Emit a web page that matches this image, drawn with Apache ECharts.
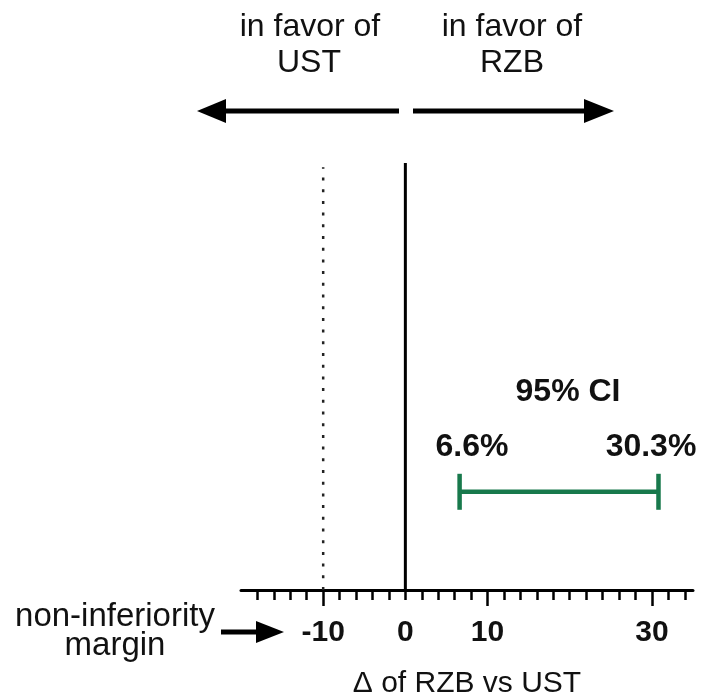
<!DOCTYPE html>
<html>
  <head>
    <meta charset="utf-8" />
    <title>Non-inferiority</title>
    <script src="https://cdn.jsdelivr.net/npm/echarts@6/dist/echarts.min.js"></script>
    <style>
      html, body { margin: 0; padding: 0; background: #fff; }
    </style>
  </head>
  <body>
    <div id="main" style="width: 705px;height:699px;"></div>
    <script type="text/javascript">
      // data
      var minorTicks = [-18, -16, -14, -12, -10, -8, -6, -4, -2, 0, 2, 4, 6, 8, 10, 12, 14, 16, 18, 20, 22, 24, 26, 28, 30, 32, 34];
      var majorTicks = [-10, 10, 30];
      var tickLabels = [-10, 0, 10, 30];
      var marginValue = -10;       // non-inferiority margin
      var ciBounds = [6.6, 30.8];  // drawn ends of the 95% CI
      var ciLabels = ['6.6%', '30.3%'];
      var ciRow = 23;              // height of the CI bar on the hidden y axis

      var FONT = '"Liberation Sans", Arial, Helvetica, sans-serif';
      var myChart = echarts.init(document.getElementById('main'));

      function txt(text, x, y, size, bold) {
        return {
          type: 'text',
          style: {
            text: text, x: x, y: y,
            font: (bold ? 'bold ' : '') + size + 'px ' + FONT,
            fill: '#111',
            textAlign: 'center',
            textVerticalAlign: 'middle'
          }
        };
      }

      option = {
        animation: false,
        grid: { left: 241, right: 12, top: 163, bottom: 109, outerBoundsMode: 'none', containLabel: false },
        xAxis: [
          {
            type: 'value',
            min: -20,
            max: 35,
            splitLine: { show: false },
            axisLine: { lineStyle: { color: '#000', width: 3 } },
            axisTick: { customValues: minorTicks, length: 10, lineStyle: { color: '#000', width: 2.5 } },
            axisLabel: {
              customValues: tickLabels,
              margin: 28,
              fontFamily: FONT,
              fontSize: 30,
              fontWeight: 'bold',
              color: '#111'
            },
            name: 'Δ of RZB vs UST',
            nameLocation: 'middle',
            nameGap: 79,
            nameTextStyle: { fontFamily: FONT, fontSize: 30, color: '#111' }
          },
          {
            type: 'value',
            min: -20,
            max: 35,
            position: 'bottom',
            splitLine: { show: false },
            axisLine: { show: false },
            axisTick: { customValues: majorTicks, length: 16, lineStyle: { color: '#000', width: 2.5 } },
            axisLabel: { show: false }
          }
        ],
        yAxis: { type: 'value', min: 0, max: 100, show: false },
        series: [
          {
            type: 'line',
            symbol: 'none',
            data: [[0, 0], [0, 100]],
            lineStyle: { color: '#000', width: 3 }
          },
          {
            type: 'line',
            symbol: 'none',
            data: [[marginValue, 0], [marginValue, 99]],
            lineStyle: { color: '#222', width: 2.5, type: [3, 8.7] }
          },
          {
            type: 'custom',
            data: [[ciBounds[0], ciBounds[1], ciRow]],
            renderItem: function (params, api) {
              var a = api.coord([api.value(0), api.value(2)]);
              var b = api.coord([api.value(1), api.value(2)]);
              var h = 18;
              var st = { stroke: '#18794c', lineWidth: 4.5 };
              return {
                type: 'group',
                children: [
                  { type: 'line', shape: { x1: a[0], y1: a[1], x2: b[0], y2: b[1] }, style: st },
                  { type: 'line', shape: { x1: a[0], y1: a[1] - h, x2: a[0], y2: a[1] + h }, style: st },
                  { type: 'line', shape: { x1: b[0], y1: b[1] - h, x2: b[0], y2: b[1] + h }, style: st }
                ]
              };
            }
          }
        ],
        graphic: [
          txt('in favor of', 310, 27, 32, false),
          txt('UST', 309, 63, 32, false),
          txt('in favor of', 512, 27, 32, false),
          txt('RZB', 512, 63, 32, false),
          // top arrows
          { type: 'line', shape: { x1: 222, y1: 111, x2: 399, y2: 111 }, style: { stroke: '#000', lineWidth: 5 } },
          { type: 'polygon', shape: { points: [[197, 111], [226, 99], [226, 123]] }, style: { fill: '#000' } },
          { type: 'line', shape: { x1: 413, y1: 111, x2: 588, y2: 111 }, style: { stroke: '#000', lineWidth: 5 } },
          { type: 'polygon', shape: { points: [[614, 111], [584, 99], [584, 123]] }, style: { fill: '#000' } },
          // CI texts
          txt('95% CI', 568, 392, 32, true),
          txt(ciLabels[0], 472, 447, 32, true),
          txt(ciLabels[1], 651, 447, 32, true),
          // non-inferiority margin
          txt('non-inferiority', 115, 617, 33, false),
          txt('margin', 115, 646, 33, false),
          { type: 'line', shape: { x1: 221, y1: 632, x2: 260, y2: 632 }, style: { stroke: '#000', lineWidth: 5 } },
          { type: 'polygon', shape: { points: [[284, 632], [256, 621], [256, 643]] }, style: { fill: '#000' } }
        ]
      };
      myChart.setOption(option);
    </script>
  </body>
</html>
